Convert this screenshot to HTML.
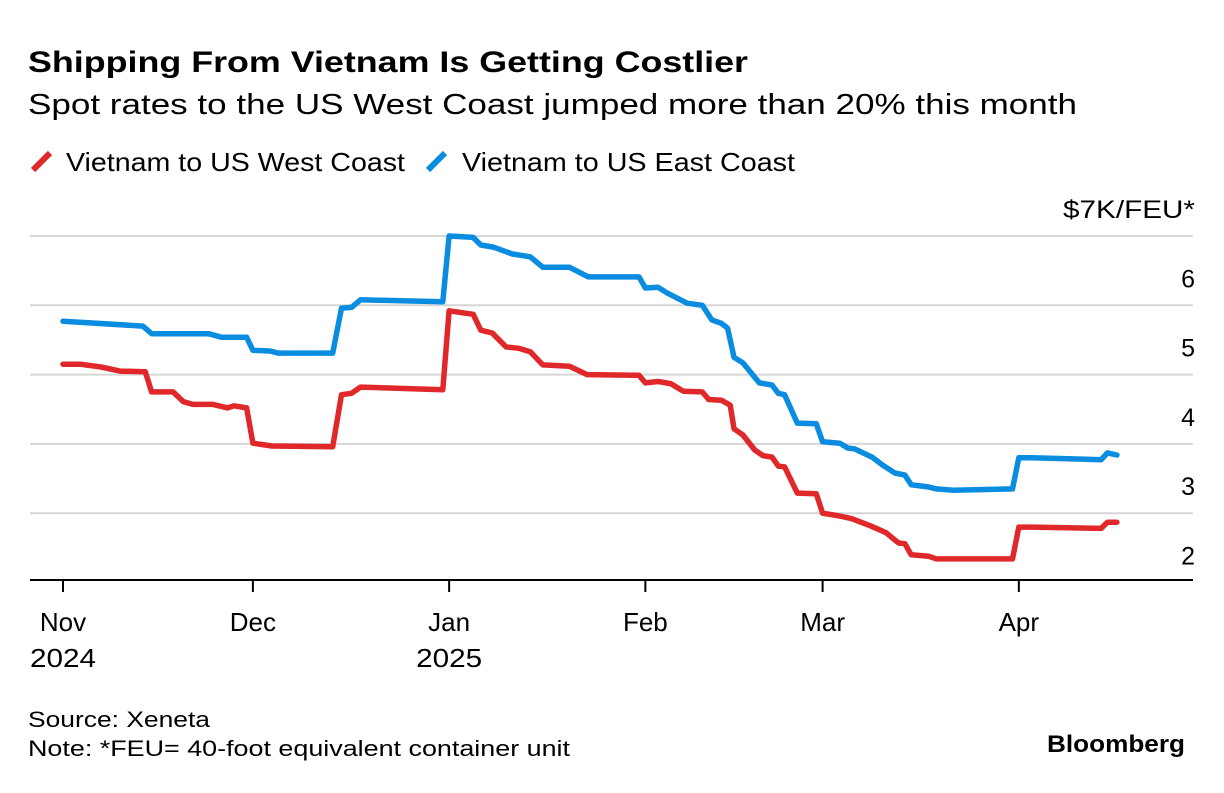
<!DOCTYPE html>
<html><head><meta charset="utf-8">
<style>
body{margin:0;background:#fff;width:1224px;height:788px;overflow:hidden;font-family:"Liberation Sans",Arial,sans-serif;color:#000}
svg text{font-family:"Liberation Sans",Arial,sans-serif}
</style></head>
<body>
<svg width="1224" height="788">
<text x="28" y="72" font-size="30" font-weight="bold" textLength="720" lengthAdjust="spacingAndGlyphs">Shipping From Vietnam Is Getting Costlier</text>
<text x="28" y="114" font-size="29" textLength="1049" lengthAdjust="spacingAndGlyphs">Spot rates to the US West Coast jumped more than 20% this month</text>
<g>
<line x1="33" y1="170" x2="50" y2="153" stroke="#e0282a" stroke-width="6"/>
<text x="66" y="171" font-size="26" textLength="339" lengthAdjust="spacingAndGlyphs">Vietnam to US West Coast</text>
<line x1="428" y1="170" x2="445" y2="153" stroke="#0a8de0" stroke-width="6"/>
<text x="462" y="171" font-size="26" textLength="333" lengthAdjust="spacingAndGlyphs">Vietnam to US East Coast</text>
</g>
<g id="grid"></g>
<g id="axes"></g>
<g id="lines"></g>
<text x="28" y="727" font-size="22" textLength="182" lengthAdjust="spacingAndGlyphs">Source: Xeneta</text>
<text x="28" y="756" font-size="22" textLength="542" lengthAdjust="spacingAndGlyphs">Note: *FEU= 40-foot equivalent container unit</text>
<text x="1047" y="752" font-size="24" font-weight="bold" textLength="138" lengthAdjust="spacingAndGlyphs">Bloomberg</text>
</svg>
<script>
const yTicks=[2,3,4,5,6,7];
const yTickLabels=["2","3","4","5","6","$7K/FEU*"];
const monthDays=[0,30,61,92,120,151];
const monthLabels=["Nov","Dec","Jan","Feb","Mar","Apr"];
const yearLabels=["2024","","2025","","",""];
const westDays=[0,2.7,6,9,13,14,17.4,19,20.5,23.7,26,27,29,30,33,42.6,44,45.6,47,60,61,64.8,66,67.8,70,72,73.8,75.8,80,82.8,91,92,94,96,98,101,102,104,105.4,106,107.4,109.3,110.6,112,113,114,116,119,120,122.7,124.6,127.5,130,132,133,134,136.7,138,150,151,153,164,165,166.5];
const westVals=[5.15,5.15,5.11,5.05,5.04,4.75,4.75,4.61,4.57,4.57,4.52,4.55,4.52,4.01,3.97,3.96,4.71,4.73,4.82,4.78,5.92,5.87,5.64,5.60,5.40,5.38,5.33,5.14,5.12,5.0,4.99,4.88,4.90,4.87,4.76,4.75,4.64,4.63,4.56,4.22,4.13,3.91,3.83,3.81,3.68,3.67,3.29,3.28,3.0,2.96,2.92,2.82,2.72,2.57,2.56,2.40,2.38,2.34,2.34,2.80,2.80,2.78,2.87,2.87];
const eastDays=[0,12.6,14,23,25,29,30,32.7,34,42.6,44,45.6,47,60,61,64.8,66,68,71,73.8,75.8,80,83,91,92,94,95.4,98.6,101,102.5,104,105,106,107.4,110,112,113,114,116,119,120,122.7,124,125,127.8,129.4,131.4,133,134,136.7,138,140.6,150,151,153,161,164,165,166.5];
const eastVals=[5.77,5.70,5.59,5.59,5.54,5.54,5.35,5.34,5.31,5.31,5.96,5.97,6.08,6.05,7.0,6.98,6.87,6.84,6.74,6.70,6.55,6.55,6.41,6.41,6.25,6.26,6.18,6.03,6.0,5.79,5.74,5.67,5.25,5.17,4.88,4.85,4.73,4.71,4.30,4.29,4.03,4.01,3.94,3.93,3.81,3.70,3.58,3.55,3.41,3.38,3.35,3.33,3.35,3.80,3.80,3.78,3.77,3.87,3.84];

const NS="http://www.w3.org/2000/svg";
function x(d){return 63+d*6.33;}
function y(v){return 236+(7-v)*69.3;}
function mk(tag,attrs,parent){const e=document.createElementNS(NS,tag);for(const k in attrs)e.setAttribute(k,attrs[k]);document.getElementById(parent).appendChild(e);return e;}

yTicks.forEach((t,i)=>{
  if(t>2){
    const g=mk('line',{x1:30,x2:1193,y1:y(t),y2:y(t),stroke:'#d6d6d6','stroke-width':2},'grid');
    
    
  }
  const attrs={x:1195,y:y(t)-18,'font-size':25,'text-anchor':'end'};
  if(t===7){attrs.textLength=132;attrs.lengthAdjust='spacingAndGlyphs';}
  const tx=mk('text',attrs,'axes');
  tx.textContent=yTickLabels[i];
  
  
});
const ax=mk('line',{x1:30,x2:1193,y1:580,y2:580,stroke:'#000','stroke-width':2},'axes');


monthDays.forEach((d,i)=>{
  const tk=mk('line',{x1:x(d),x2:x(d),y1:580,y2:592,stroke:'#000','stroke-width':2},'axes');
  
  
  const t=mk('text',{x:x(d),y:631,'font-size':26,'text-anchor':'middle'},'axes');
  t.textContent=monthLabels[i];
  
  
  if(yearLabels[i]){
    const t2=mk('text',{x:x(d),y:667,'font-size':26,'text-anchor':'middle',textLength:66,lengthAdjust:'spacingAndGlyphs'},'axes');
    t2.textContent=yearLabels[i];
    
    
  }
});
function line(days,vals,color,name){
  const p=days.map((d,i)=>(i?'L':'M')+x(d).toFixed(1)+','+y(vals[i]).toFixed(1)).join('');
  const e=mk('path',{d:p,fill:'none',stroke:color,'stroke-width':5.5,'stroke-linejoin':'round','stroke-linecap':'round'},'lines');
  
  
}
line(eastDays,eastVals,'#0a8de0','east-coast-line');
line(westDays,westVals,'#e0282a','west-coast-line');
</script>
</body></html>
